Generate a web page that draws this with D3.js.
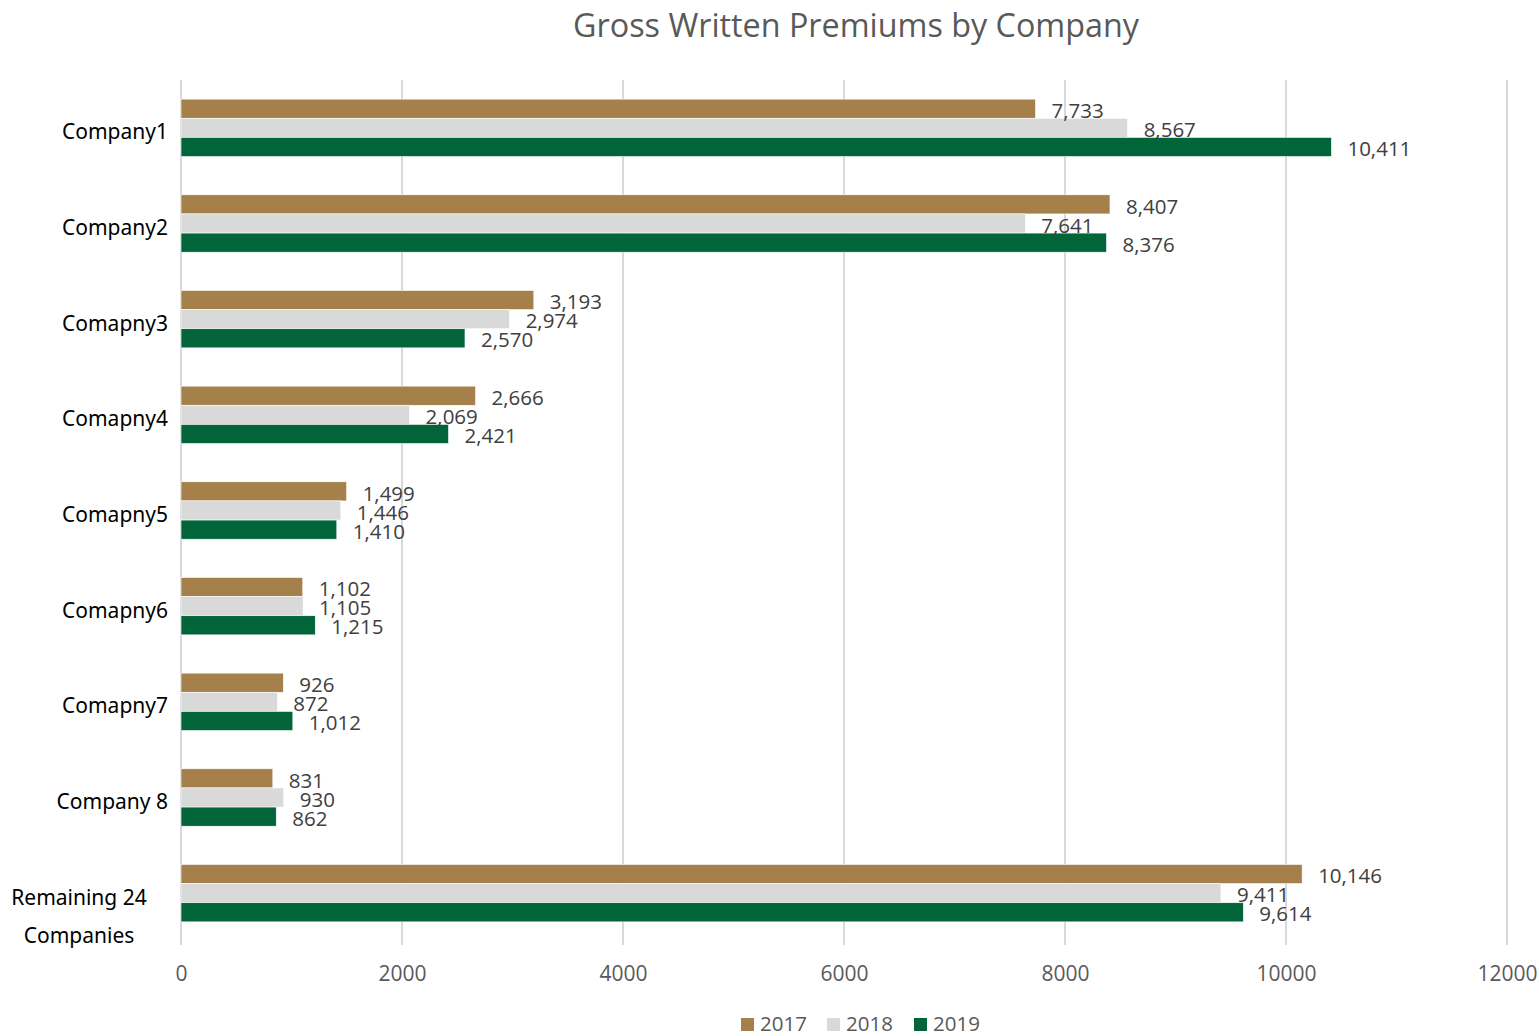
<!DOCTYPE html>
<html>
<head>
<meta charset="utf-8">
<script src="https://cdn.jsdelivr.net/npm/d3@7"></script>
<style>
  html, body { margin: 0; padding: 0; background: #fff; }
  svg { display: block; }
</style>
</head>
<body>
<svg id="chart" width="1539" height="1036"></svg>
<script>
// Categories and yearly gross written premiums
const categories = ["Company1", "Company2", "Comapny3", "Comapny4", "Comapny5", "Comapny6", "Comapny7", "Company 8", "Remaining 24 Companies"];
const years = ["2017", "2018", "2019"];
const values2017 = [7733, 8407, 3193, 2666, 1499, 1102, 926, 831, 10146];
const values2018 = [8567, 7641, 2974, 2069, 1446, 1105, 872, 930, 9411];
const values2019 = [10411, 8376, 2570, 2421, 1410, 1215, 1012, 862, 9614];
const xTicks = [0, 2000, 4000, 6000, 8000, 10000, 12000];
const colors = ["#A5804A", "#D9D9D9", "#02653A"];

const seriesValues = [values2017, values2018, values2019];
const rows = categories.map((c, i) => ({
  category: c,
  values: years.map((y, k) => ({ year: y, value: seriesValues[k][i] }))
}));

const svg = d3.select("#chart");
const plotLeft = 181, plotRight = 1507, plotTop = 80, plotBottom = 941;
const font = "'Open Sans', 'Noto Sans', sans-serif";

const x = d3.scaleLinear().domain([0, 12000]).range([plotLeft, plotRight]);
const y = d3.scaleBand().domain(categories).range([plotTop, plotBottom]).paddingInner(0.4).paddingOuter(0.2);
const y1 = d3.scaleBand().domain(years).range([0, y.bandwidth()]);
const color = d3.scaleOrdinal().domain(years).range(colors);

// Title
svg.append("text")
  .attr("x", 856).attr("y", 37)
  .attr("text-anchor", "middle")
  .attr("font-family", font).attr("font-size", 32.3)
  .attr("fill", "#595959")
  .text("Gross Written Premiums by Company");

// Vertical gridlines
svg.append("g").selectAll("line").data(xTicks).join("line")
  .attr("x1", d => x(d)).attr("x2", d => x(d))
  .attr("y1", plotTop).attr("y2", plotBottom + 4)
  .attr("stroke", "#D9D9D9").attr("stroke-width", 2);

// X axis tick labels
const xAxis = d3.axisBottom(x).tickValues(xTicks).tickSize(0).tickPadding(0).tickFormat(d3.format("d"));
const gx = svg.append("g").attr("transform", `translate(0, ${plotBottom + 40})`).call(xAxis);
gx.select(".domain").remove();
gx.selectAll("text")
  .attr("font-family", font).attr("font-size", 21)
  .attr("fill", "#595959").attr("dy", 0);

// Bars
const groups = svg.append("g").selectAll("g").data(rows).join("g")
  .attr("transform", d => `translate(0, ${y(d.category)})`);

groups.selectAll("rect").data(d => d.values).join("rect")
  .attr("x", x(0))
  .attr("y", d => y1(d.year))
  .attr("width", d => x(d.value) - x(0))
  .attr("height", y1.bandwidth())
  .attr("fill", d => color(d.year))
  .attr("stroke", "#fff").attr("stroke-width", 0.6);

// Value labels
groups.selectAll("text").data(d => d.values).join("text")
  .attr("x", d => x(d.value) + 16)
  .attr("y", d => y1(d.year) + y1.bandwidth() / 2 + 2)
  .attr("dy", "0.35em")
  .attr("font-family", font).attr("font-size", 20.5)
  .attr("fill", "#404040")
  .text(d => d3.format(",")(d.value));

// Category labels
const labelFont = "'Noto Sans', 'Open Sans', sans-serif";
svg.append("g").selectAll("text").data(categories.slice(0, -1)).join("text")
  .attr("x", 168)
  .attr("y", d => y(d) + y.bandwidth() / 2 + 4)
  .attr("dy", "0.35em")
  .attr("text-anchor", "end")
  .attr("font-family", labelFont).attr("font-size", 21)
  .attr("fill", "#000")
  .text(d => d);

// Wrapped label for the last category
const last = categories[categories.length - 1];
const lastWords = last.split(" ");
const lastLines = [lastWords.slice(0, 2).join(" "), lastWords.slice(2).join(" ")];
svg.append("g").selectAll("text").data(lastLines).join("text")
  .attr("x", 79)
  .attr("y", (d, i) => y(last) + y.bandwidth() / 2 + 4 + i * 38)
  .attr("dy", "0.35em")
  .attr("text-anchor", "middle")
  .attr("font-family", labelFont).attr("font-size", 21)
  .attr("fill", "#000")
  .text(d => d);

// Legend
const legendX = [741, 827, 914];
const legend = svg.append("g").selectAll("g").data(years).join("g")
  .attr("transform", (d, i) => `translate(${legendX[i]}, 1018)`);
legend.append("rect")
  .attr("width", 13).attr("height", 13)
  .attr("fill", d => color(d));
legend.append("text")
  .attr("x", 19).attr("y", 6)
  .attr("dy", "0.35em")
  .attr("font-family", font).attr("font-size", 20.5)
  .attr("fill", "#595959")
  .text(d => d);
</script>
</body>
</html>
